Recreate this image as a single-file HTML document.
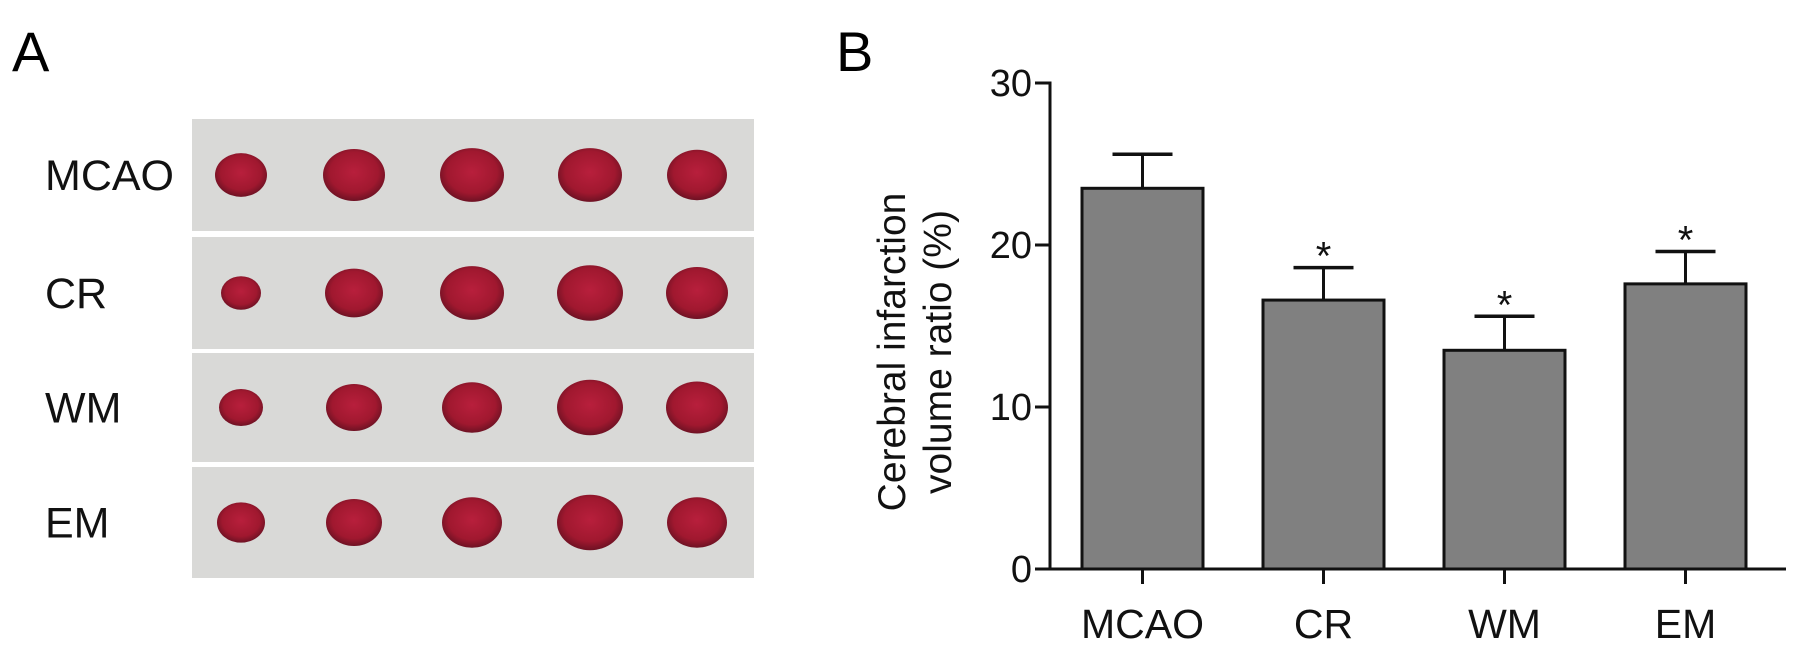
<!DOCTYPE html>
<html><head><meta charset="utf-8"><style>
html,body{margin:0;padding:0;background:#fff;}
svg{display:block;font-family:"Liberation Sans",Arial,sans-serif;}
</style></head><body>
<svg id="fig" width="1795" height="652" viewBox="0 0 1795 652" xmlns="http://www.w3.org/2000/svg">
<defs>
<radialGradient id="slice" cx="50%" cy="45%" r="60%">
<stop offset="0%" stop-color="#b81f3c"/><stop offset="65%" stop-color="#a0182f"/><stop offset="100%" stop-color="#5e1020"/>
</radialGradient>
</defs>
<text x="12" y="71" font-size="56">A</text>
<text x="836" y="71" font-size="56">B</text>
<g id="photo"></g>
<g id="chart"></g>
</svg>
<script>
const NS="http://www.w3.org/2000/svg";
function mk(tag,attrs,parent){const e=document.createElementNS(NS,tag);for(const k in attrs)e.setAttribute(k,attrs[k]);parent.appendChild(e);return e;}

// Panel A
const rowLabels=["MCAO","CR","WM","EM"];
const rowTops=[119,237,353,467];
const rowH=[112,112,109,111];
const photo=document.getElementById('photo');
const sliceX=[241,354,472,590,697];
const sliceW=[[52,62,64,64,60],[40,58,64,66,62],[44,56,60,66,62],[48,56,60,66,60]];
rowLabels.forEach((lab,i)=>{
  const r=mk('rect',{x:192,y:rowTops[i],width:562,height:rowH[i],fill:'#d9d9d7'},photo);
  
  
  const cy=rowTops[i]+rowH[i]/2;
  sliceX.forEach((sx,j)=>{
    const w=sliceW[i][j];
    const e=mk('ellipse',{cx:sx,cy:cy,rx:w/2,ry:w*0.42,fill:'url(#slice)'},photo);
    
    
  });
  const t=mk('text',{x:45,y:cy+15,'font-size':43,fill:'#111'},photo);
  t.textContent=lab;
  
  
});

// Panel B chart data
const categories=["MCAO","CR","WM","EM"];
const values=[23.5,16.6,13.5,17.6];
const errors=[2.1,2.0,2.1,2.0];
const significant=[false,true,true,true];
const yTicks=[0,10,20,30];

const chart=document.getElementById('chart');
const y0=569, pxPerUnit=16.2, axisX=1050, firstBar=1082, pitch=181, barW=121;
function yScale(v){return y0-v*pxPerUnit;}
function xBand(i){return firstBar+i*pitch;}

categories.forEach((c,i)=>{
  const x=xBand(i), top=yScale(values[i]), cx=x+barW/2, ce=yScale(values[i]+errors[i]);
  const eb=mk('line',{x1:cx,y1:top,x2:cx,y2:ce,stroke:'#111','stroke-width':3},chart);
  
  
  const cap=mk('line',{x1:cx-30,y1:ce,x2:cx+30,y2:ce,stroke:'#111','stroke-width':3.5},chart);
  
  
  const b=mk('rect',{x:x,y:top,width:barW,height:y0-top,fill:'#808080',stroke:'#111','stroke-width':3},chart);
  
  
  if(significant[i]){
    const s=mk('text',{x:cx,y:ce+2,'font-size':40,'text-anchor':'middle',fill:'#111'},chart);
    s.textContent='*';
    
    
  }
  const tk=mk('line',{x1:cx,y1:y0,x2:cx,y2:y0+15,stroke:'#111','stroke-width':3},chart);
  
  
  const lt=mk('text',{x:cx,y:638,'font-size':41,'text-anchor':'middle',fill:'#111'},chart);
  lt.textContent=c;
  
  
});

const yAxis=mk('line',{x1:axisX,y1:yScale(30)-1.5,x2:axisX,y2:y0+1.5,stroke:'#111','stroke-width':3},chart);


const xAxis=mk('line',{x1:axisX,y1:y0,x2:1786,y2:y0,stroke:'#111','stroke-width':3},chart);



yTicks.forEach(v=>{
  const y=yScale(v);
  const t=mk('line',{x1:axisX-15,y1:y,x2:axisX,y2:y,stroke:'#111','stroke-width':3},chart);
  
  
  const l=mk('text',{x:1032,y:y+13,'font-size':38,'text-anchor':'end',fill:'#111'},chart);
  l.textContent=v;
  
  
});

const title=mk('text',{transform:'translate(905,352) rotate(-90)','font-size':39,'text-anchor':'middle',fill:'#111'},chart);


const t1=mk('tspan',{x:0,y:0},title);t1.textContent='Cerebral infarction';
const t2=mk('tspan',{x:0,y:46},title);t2.textContent='volume ratio (%)';
</script>
</body></html>
